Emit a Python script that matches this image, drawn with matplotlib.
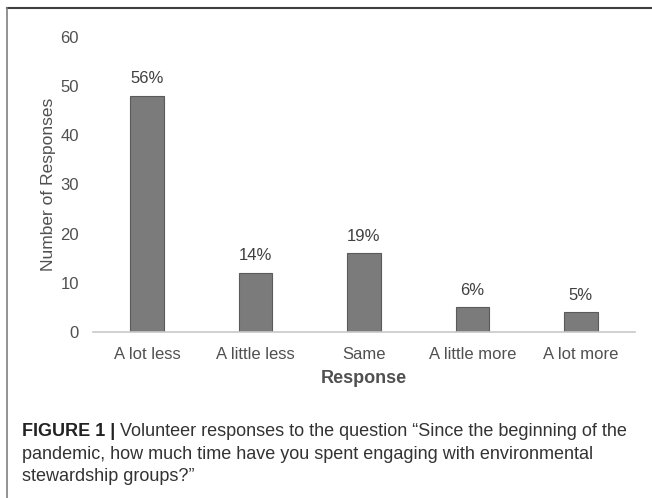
import matplotlib
matplotlib.use("Agg")
import matplotlib.pyplot as plt
from matplotlib.lines import Line2D

plt.rcParams['font.family'] = ['Liberation Sans', 'DejaVu Sans']

# Data
categories = ['A lot less', 'A little less', 'Same', 'A little more', 'A lot more']
counts = [48, 12, 16, 5, 4]
percents = ['56%', '14%', '19%', '6%', '5%']
y_ticks = [0, 10, 20, 30, 40, 50, 60]

W, H = 652, 498
fig = plt.figure(figsize=(W / 100, H / 100), dpi=100)

# axes placed in pixel terms
left, right, bottom, top = 93, 635, 332, 37
ax = fig.add_axes([left / W, 1 - bottom / H, (right - left) / W, (bottom - top) / H])

x = range(len(categories))
bars = ax.bar(x, counts, width=0.31, color='#7b7b7b', edgecolor='#5a5a5a', linewidth=0.8)
ax.set_xlim(-0.5, len(categories) - 0.5)
ax.set_ylim(0, 60)
ax.set_yticks(y_ticks)
ax.set_xticks(list(x))
ax.set_xticklabels(categories)

for b, p in zip(bars, percents):
    ax.annotate(p, (b.get_x() + b.get_width() / 2, b.get_height()),
                xytext=(0, 7), textcoords='offset points',
                ha='center', va='bottom', fontsize=12, color='#404040')

for s in ['top', 'right', 'left']:
    ax.spines[s].set_visible(False)
ax.spines['bottom'].set_color('#c8c8c8')
ax.spines['bottom'].set_linewidth(1.2)
ax.tick_params(axis='both', length=0, labelsize=12, colors='#505050')
ax.tick_params(axis='y', pad=10)
ax.tick_params(axis='x', pad=10.5)

ax.set_ylabel('Number of Responses', fontsize=12.5, color='#505050', labelpad=3)
ax.set_xlabel('Response', fontsize=13, fontweight='bold', color='#505050', labelpad=6)

# frame lines (top and left)
fig.add_artist(Line2D([7 / W, 1], [1 - 8 / H, 1 - 8 / H], color='#404040', lw=1.5,
                      transform=fig.transFigure))
fig.add_artist(Line2D([7 / W, 7 / W], [1 - 8 / H, 0], color='#808080', lw=1.2,
                      transform=fig.transFigure))

# caption
cap_x = 22 / W
bold = fig.text(cap_x, 1 - 431 / H, 'FIGURE 1 |', fontsize=13, fontweight='bold',
                color='#222222', va='center')
fig.canvas.draw()
bb = bold.get_window_extent()
fig.text((bb.x1 + 5) / W, 1 - 431 / H,
         'Volunteer responses to the question \u201cSince the beginning of the',
         fontsize=13, color='#333333', va='center')
fig.text(cap_x, 1 - 454 / H,
         'pandemic, how much time have you spent engaging with environmental',
         fontsize=13, color='#333333', va='center')
fig.text(cap_x, 1 - 476 / H, 'stewardship groups?\u201d',
         fontsize=13, color='#333333', va='center')

fig.savefig('out.png', dpi=100)
